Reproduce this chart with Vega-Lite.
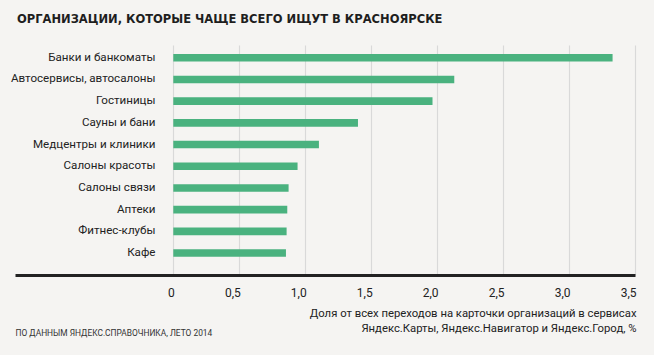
{
  "$schema": "https://vega.github.io/schema/vega-lite/v6.json",
  "width": 620,
  "height": 230,
  "autosize": {"type": "none"},
  "padding": {"left": 15, "top": 45, "right": 19, "bottom": 80},
  "background": "#f5f4f2",
  "title": {
    "text": "ОРГАНИЗАЦИИ, КОТОРЫЕ ЧАЩЕ ВСЕГО ИЩУТ В КРАСНОЯРСКЕ",
    "anchor": "start",
    "frame": "group",
    "font": "DejaVu Sans",
    "fontSize": 11.5,
    "fontWeight": "bold",
    "color": "#1e1e1e",
    "offset": 20,
    "dx": 2
  },
  "data": {
    "values": [
      {"category": "Банки и банкоматы", "value": 3.33},
      {"category": "Автосервисы, автосалоны", "value": 2.13},
      {"category": "Гостиницы", "value": 1.965},
      {"category": "Сауны и бани", "value": 1.40},
      {"category": "Медцентры и клиники", "value": 1.104},
      {"category": "Салоны красоты", "value": 0.942},
      {"category": "Салоны связи", "value": 0.874},
      {"category": "Аптеки", "value": 0.864},
      {"category": "Фитнес-клубы", "value": 0.859},
      {"category": "Кафе", "value": 0.854}
    ]
  },
  "mark": {"type": "bar", "color": "#4ab27f"},
  "encoding": {
    "y": {
      "field": "category",
      "type": "nominal",
      "sort": null,
      "scale": {"paddingInner": 0.65, "paddingOuter": 0.624, "align": 0.33},
      "axis": {
        "domain": false,
        "ticks": false,
        "grid": false,
        "labelPadding": -140,
        "labelAlign": "right",
        "labelFont": "Roboto",
        "labelFontSize": 11.6,
        "labelColor": "#222222",
        "title": "ПО ДАННЫМ ЯНДЕКС.СПРАВОЧНИКА, ЛЕТО 2014",
        "titleAngle": 0,
        "titleX": 0,
        "titleY": 287,
        "titleAlign": "left",
        "titleBaseline": "middle",
        "titleFont": "Roboto",
        "titleFontSize": 8.4,
        "titleFontWeight": "normal",
        "titleColor": "#333333"
      }
    },
    "x": {
      "field": "value",
      "type": "quantitative",
      "scale": {"domain": [-1.2, 3.5], "nice": false, "zero": false},
      "axis": {
        "values": [0, 0.5, 1, 1.5, 2, 2.5, 3, 3.5],
        "labelExpr": "datum.value == 0 ? '0' : replace(format(datum.value, '.1f'), '.', ',')",
        "grid": true,
        "gridColor": "#d9d9d9",
        "gridWidth": 1.2,
        "ticks": false,
        "domain": true,
        "domainColor": "#222222",
        "domainWidth": 3,
        "labelFont": "Roboto",
        "labelFontSize": 12,
        "labelColor": "#222222",
        "labelAlign": "right",
        "labelBaseline": "middle",
        "labelPadding": 17,
        "labelFlush": false,
        "labelOffset": 1,
        "title": ["Доля от всех переходов на карточки организаций в сервисах", "Яндекс.Карты, Яндекс.Навигатор и Яндекс.Город, %"],
        "titleX": 621,
        "titleY": 41,
        "titleAlign": "right",
        "titleBaseline": "alphabetic",
        "titleFont": "Roboto",
        "titleFontSize": 11.3,
        "titleFontWeight": "normal",
        "titleColor": "#222222",
        "titleLineHeight": 15.5
      }
    }
  },
  "config": {"view": {"stroke": null}}
}
